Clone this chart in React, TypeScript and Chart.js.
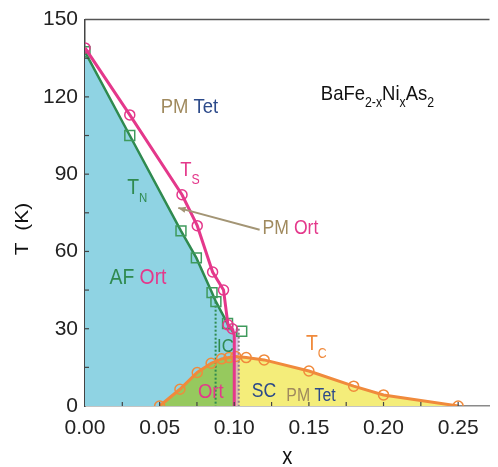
import React, { useEffect, useRef } from "react";
import { Chart, registerables } from "chart.js";

Chart.register(...registerables);

// ---------- data ----------
const xTickValues = [0, 0.05, 0.1, 0.15, 0.2, 0.25];
const yTickValues = [0, 30, 60, 90, 120, 150];

// Ts (structural transition), pink circles
const tsX = [0.0, 0.03, 0.065, 0.0752, 0.0855, 0.0928, 0.0958, 0.0987];
const tsT = [139, 113, 82, 70, 52, 45, 31.5, 30];
// end of Ts line that drops vertically at x = 0.10
const tsTailX = [0.1, 0.1];
const tsTailT = [27.5, 0];

// TN (magnetic transition), green squares
const tnX = [0.0, 0.03, 0.0643, 0.0746, 0.0851, 0.0877, 0.0955];
const tnT = [137.5, 105, 68, 57.5, 44, 40.5, 32];
const tnEndX = [0.1];
const tnEndT = [28];
const tnExtraX = [0.105];
const tnExtraT = [29];

// Tc (superconducting dome), orange circles
const tcX = [0.05, 0.0636, 0.0752, 0.0845, 0.0915, 0.0965, 0.101, 0.108, 0.12, 0.15, 0.18, 0.2, 0.25];
const tcT = [0, 6.5, 13, 16.6, 18.3, 18.8, 19.2, 18.8, 17.9, 13.6, 7.7, 4.3, 0];

// phase boundaries
const icLeftX = [0.0875, 0.0875];
const icLeftT = [40.5, 0];
const icRightX = [0.103, 0.103];
const icRightT = [30, 0];
const stripX = [0.1, 0.103];
const stripT = [30, 30];
const splitX = 0.1; // Ort / Tet boundary under the dome

const FONT = "'Liberation Sans', Arial, sans-serif";
const SQUEEZE = 0.88;

const C_PINK = "#e4388b";
const C_GREEN = "#2f8a4f";
const C_ORANGE = "#f08a3c";
const C_TAN = "#a08a5e";
const C_NAVY = "#2c4a8a";

const pts = (xs: number[], ys: number[]) => xs.map((x, i) => ({ x, y: ys[i] }));

type Run = { t: string; c: string; s: number; dy?: number };
type Label = { x: number; y: number; runs: Run[] };

const labels: Label[] = [
  { x: 0.0507, y: 113.6, runs: [{ t: "PM ", c: C_TAN, s: 21 }, { t: "Tet", c: C_NAVY, s: 21 }] },
  { x: 0.0638, y: 89.3, runs: [{ t: "T", c: C_PINK, s: 21 }, { t: "S", c: C_PINK, s: 14, dy: 8 }] },
  { x: 0.0283, y: 82.3, runs: [{ t: "T", c: C_GREEN, s: 22 }, { t: "N", c: C_GREEN, s: 13, dy: 8 }] },
  { x: 0.119, y: 66.9, runs: [{ t: "PM ", c: C_TAN, s: 20 }, { t: "Ort", c: C_PINK, s: 20 }] },
  { x: 0.0164, y: 47.5, runs: [{ t: "AF ", c: C_GREEN, s: 22 }, { t: "Ort", c: C_PINK, s: 22 }] },
  { x: 0.0885, y: 21, runs: [{ t: "IC", c: C_GREEN, s: 19 }] },
  { x: 0.0757, y: 3.1, runs: [{ t: "Ort", c: C_PINK, s: 21 }] },
  { x: 0.1118, y: 3.5, runs: [{ t: "SC", c: C_NAVY, s: 20 }] },
  { x: 0.1349, y: 2, runs: [{ t: "PM ", c: C_TAN, s: 18 }, { t: "Tet", c: C_NAVY, s: 18 }] },
  { x: 0.148, y: 21.6, runs: [{ t: "T", c: C_ORANGE, s: 22 }, { t: "C", c: C_ORANGE, s: 14, dy: 8 }] },
  {
    x: 0.158,
    y: 118.6,
    runs: [
      { t: "BaFe", c: "#111", s: 21 },
      { t: "2-x", c: "#111", s: 14, dy: 7 },
      { t: "Ni", c: "#111", s: 21 },
      { t: "x", c: "#111", s: 14, dy: 7 },
      { t: "As", c: "#111", s: 21 },
      { t: "2", c: "#111", s: 14, dy: 7 },
    ],
  },
];

const arrowFrom = { x: 0.117, y: 68.4 };
const arrowTo = { x: 0.0625, y: 76.9 };

const decorPlugin = {
  id: "decor",
  afterDraw(chart: any) {
    const { ctx, chartArea, scales } = chart;
    const xs = scales.x;
    const ys = scales.y;
    ctx.save();
    // top frame line
    ctx.strokeStyle = "#555";
    ctx.lineWidth = 1.5;
    ctx.beginPath();
    ctx.moveTo(chartArea.left, chartArea.top);
    ctx.lineTo(chartArea.right, chartArea.top);
    ctx.stroke();
    // inward ticks
    ctx.strokeStyle = "#444";
    ctx.lineWidth = 1.2;
    for (let v = 0.025; v < 0.27; v += 0.025) {
      const px = xs.getPixelForValue(v);
      ctx.beginPath();
      ctx.moveTo(px, chartArea.bottom);
      ctx.lineTo(px, chartArea.bottom - 4);
      ctx.stroke();
    }
    for (let v = 15; v < 150; v += 15) {
      const py = ys.getPixelForValue(v);
      ctx.beginPath();
      ctx.moveTo(chartArea.left, py);
      ctx.lineTo(chartArea.left + 4, py);
      ctx.stroke();
    }
    // arrow
    const ax0 = xs.getPixelForValue(arrowFrom.x);
    const ay0 = ys.getPixelForValue(arrowFrom.y);
    const ax1 = xs.getPixelForValue(arrowTo.x);
    const ay1 = ys.getPixelForValue(arrowTo.y);
    ctx.strokeStyle = "#a39575";
    ctx.fillStyle = "#a39575";
    ctx.lineWidth = 2;
    ctx.beginPath();
    ctx.moveTo(ax0, ay0);
    ctx.lineTo(ax1, ay1);
    ctx.stroke();
    const ang = Math.atan2(ay1 - ay0, ax1 - ax0);
    ctx.beginPath();
    ctx.moveTo(ax1, ay1);
    ctx.lineTo(ax1 - 8 * Math.cos(ang - 0.4), ay1 - 8 * Math.sin(ang - 0.4));
    ctx.lineTo(ax1 - 8 * Math.cos(ang + 0.4), ay1 - 8 * Math.sin(ang + 0.4));
    ctx.closePath();
    ctx.fill();
    // labels (horizontally condensed like the source figure)
    ctx.textBaseline = "alphabetic";
    ctx.textAlign = "left";
    for (const lb of labels) {
      const x0 = xs.getPixelForValue(lb.x);
      const y0 = ys.getPixelForValue(lb.y);
      ctx.save();
      ctx.translate(x0, y0);
      ctx.scale(SQUEEZE, 1);
      let cx = 0;
      for (const r of lb.runs) {
        ctx.font = `${r.s}px ${FONT}`;
        ctx.fillStyle = r.c;
        ctx.fillText(r.t, cx, r.dy || 0);
        cx += ctx.measureText(r.t).width;
      }
      ctx.restore();
    }
    // axis titles
    ctx.fillStyle = "#111";
    ctx.textAlign = "center";
    ctx.save();
    ctx.translate((chartArea.left + chartArea.right) / 2, 464);
    ctx.scale(SQUEEZE, 1);
    ctx.font = `23px ${FONT}`;
    ctx.fillText("x", 0, 0);
    ctx.restore();
    ctx.save();
    ctx.translate(28, 229);
    ctx.rotate(-Math.PI / 2);
    ctx.scale(1, SQUEEZE);
    ctx.font = `21px ${FONT}`;
    ctx.fillText("T  (K)", 0, 0);
    ctx.restore();
    ctx.restore();
  },
};

export default function App() {
  const ref = useRef<HTMLCanvasElement | null>(null);
  useEffect(() => {
    if (!ref.current) return;
    const tcLeft = tcX.map((x, i) => ({ x, y: tcT[i] })).filter((p) => p.x <= splitX);
    const tcRight = tcX.map((x, i) => ({ x, y: tcT[i] })).filter((p) => p.x > splitX);
    const splitIdx = tcX.findIndex((x) => x > splitX);
    const tAtSplit =
      tcT[splitIdx - 1] +
      ((tcT[splitIdx] - tcT[splitIdx - 1]) * (splitX - tcX[splitIdx - 1])) / (tcX[splitIdx] - tcX[splitIdx - 1]);

    const blue = [...pts(tnX, tnT), ...pts(tnEndX, tnEndT), { x: tnEndX[0], y: 0 }];
    const green = [...tcLeft, { x: splitX, y: tAtSplit }, { x: splitX, y: 0 }];
    const yellow = [{ x: splitX, y: 0 }, { x: splitX, y: tAtSplit }, ...tcRight];

    const fillDs = (data: any[], color: string, order: number) => ({
      data,
      borderWidth: 0,
      borderColor: "transparent",
      backgroundColor: color,
      pointRadius: 0,
      fill: "origin",
      order,
      tension: 0,
    });

    const tsData = [...pts(tsX, tsT), ...pts(tsTailX, tsTailT)];
    const tnData = [...pts(tnX, tnT), ...pts(tnEndX, tnEndT)];

    const chart = new Chart(ref.current, {
      type: "line",
      data: {
        datasets: [
          fillDs(blue, "#8fd3e3", 20),
          fillDs(green, "#96c95e", 19),
          fillDs(yellow, "#f4ed7a", 18),
          fillDs(pts(stripX, stripT), "rgba(205,150,215,0.6)", 17),
          {
            data: pts(icLeftX, icLeftT),
            borderColor: C_GREEN,
            borderWidth: 2,
            borderDash: [2, 2],
            pointRadius: 0,
            fill: false,
            order: 10,
          },
          {
            data: pts(icRightX, icRightT),
            borderColor: "#8c7f8a",
            borderWidth: 2,
            borderDash: [2, 2],
            pointRadius: 0,
            fill: false,
            order: 10,
          },
          {
            data: pts(tcX, tcT),
            borderColor: C_ORANGE,
            borderWidth: 3,
            pointStyle: "circle",
            pointRadius: 5,
            pointBorderWidth: 1.5,
            pointBorderColor: C_ORANGE,
            pointBackgroundColor: "transparent",
            fill: false,
            order: 5,
          },
          {
            data: tnData,
            borderColor: C_GREEN,
            borderWidth: 2.5,
            pointStyle: "rect",
            pointRadius: tnData.map((_, i) => (i < tnX.length ? 7 : 0)),
            pointBorderWidth: 1.5,
            pointBorderColor: "#3f9a5c",
            pointBackgroundColor: "transparent",
            fill: false,
            order: 4,
          },
          {
            data: pts(tnExtraX, tnExtraT),
            showLine: false,
            pointStyle: "rect",
            pointRadius: 7,
            pointBorderWidth: 1.5,
            pointBorderColor: "#3f9a5c",
            pointBackgroundColor: "transparent",
            order: 4,
          },
          {
            data: tsData,
            borderColor: C_PINK,
            borderWidth: 3,
            pointStyle: "circle",
            pointRadius: tsData.map((_, i) => (i < tsX.length ? 5 : 0)),
            pointBorderWidth: 1.5,
            pointBorderColor: C_PINK,
            pointBackgroundColor: "transparent",
            fill: false,
            order: 3,
          },
        ] as any,
      },
      options: {
        animation: false,
        responsive: false,
        maintainAspectRatio: false,
        layout: { padding: { top: 18, right: 1, left: 0, bottom: 0 } },
        plugins: { legend: { display: false }, tooltip: { enabled: false } },
        scales: {
          x: {
            type: "linear",
            min: 0,
            max: 0.271,
            afterBuildTicks: (s: any) => {
              s.ticks = xTickValues.map((v) => ({ value: v }));
            },
            afterFit: (s: any) => {
              s.height = 61;
            },
            ticks: {
              callback: (v: any) => Number(v).toFixed(2),
              font: { family: FONT, size: 21 },
              color: "#222",
              padding: 10,
              maxRotation: 0,
              autoSkip: false,
            },
            grid: { display: true, drawOnChartArea: false, drawTicks: false },
            border: { color: "#8a8a8a", width: 1.5 },
          },
          y: {
            type: "linear",
            min: 0,
            max: 150,
            afterBuildTicks: (s: any) => {
              s.ticks = yTickValues.map((v) => ({ value: v }));
            },
            afterFit: (s: any) => {
              s.width = 85;
            },
            ticks: {
              font: { family: FONT, size: 21 },
              color: "#222",
              padding: 7,
              autoSkip: false,
            },
            grid: { display: true, drawOnChartArea: false, drawTicks: false },
            border: { color: "#444", width: 1.5 },
          },
        },
      },
      plugins: [decorPlugin],
    });
    return () => chart.destroy();
  }, []);

  return (
    <div style={{ position: "fixed", left: 0, top: 0, width: 498, height: 467, background: "#fff" }}>
      <canvas ref={ref} width={498} height={467} style={{ width: 498, height: 467, display: "block" }} />
    </div>
  );
}
